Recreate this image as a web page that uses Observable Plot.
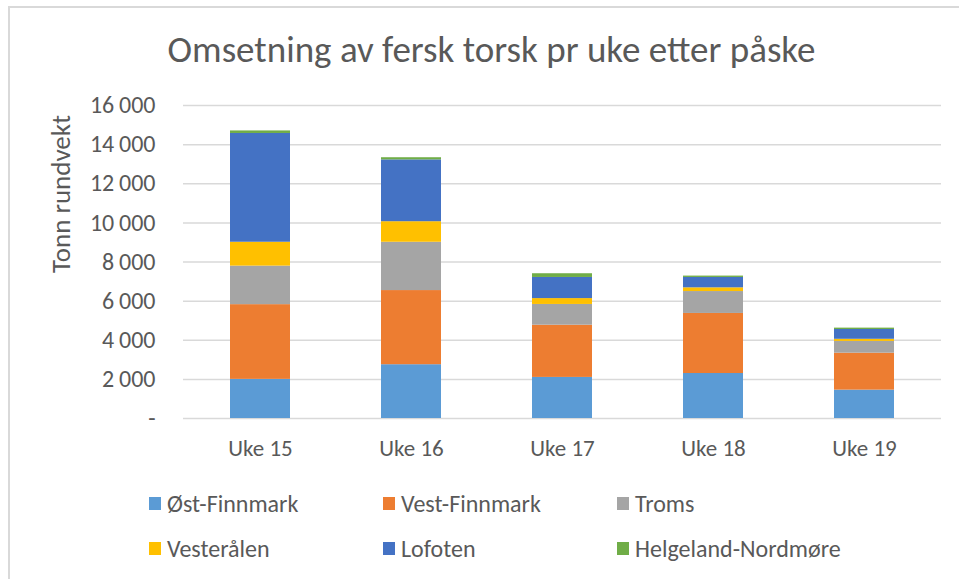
<!DOCTYPE html>
<html>
<head>
<meta charset="utf-8">
<script src="https://cdn.jsdelivr.net/npm/d3@7"></script>
<script src="https://cdn.jsdelivr.net/npm/@observablehq/plot@0.6"></script>
<style>
  html, body { margin: 0; padding: 0; background: #fff; }
  #wrap { position: relative; width: 959px; height: 579px; overflow: hidden; font-family: Carlito, Lato, sans-serif; color: #595959; }
  #frame { position: absolute; left: 8px; top: 6px; width: 980px; height: 600px; border-left: 2.5px solid #d9d9d9; border-top: 2.5px solid #d9d9d9; box-sizing: border-box; }
  #title { position: absolute; left: 0; width: 983px; top: 28px; text-align: center; font-size: 37px; line-height: 44px; white-space: nowrap; }
  #chart { position: absolute; left: 0; top: 0; }
  #legend { position: absolute; left: 149px; top: 490px; width: 750px; }
  .item { position: absolute; display: flex; align-items: center; font-size: 24px; white-space: nowrap; height: 26px; }
  .sw { width: 12px; height: 13px; margin-right: 6px; }
</style>
</head>
<body>
<div id="wrap">
  <div id="frame"></div>
  <div id="chart"></div>
  <div id="title">Omsetning av fersk torsk pr uke etter påske</div>
  <div id="legend"></div>
</div>
<script>
const weeks = ["Uke 15", "Uke 16", "Uke 17", "Uke 18", "Uke 19"];
const regions = ["Øst-Finnmark", "Vest-Finnmark", "Troms", "Vesterålen", "Lofoten", "Helgeland-Nordmøre"];
const colors = ["#5b9bd5", "#ed7d31", "#a5a5a5", "#ffc000", "#4472c4", "#70ad47"];
const ostFinnmark = [2000, 2750, 2100, 2300, 1450];
const vestFinnmark = [3820, 3790, 2670, 3070, 1890];
const troms = [1970, 2470, 1060, 1120, 600];
const vesteralen = [1220, 1050, 300, 190, 110];
const lofoten = [5560, 3160, 1080, 530, 500];
const helgeland = [130, 110, 190, 70, 70];
const yTicks = [0, 2000, 4000, 6000, 8000, 10000, 12000, 14000, 16000];

const series = [ostFinnmark, vestFinnmark, troms, vesteralen, lofoten, helgeland];
const data = [];
regions.forEach((r, i) => weeks.forEach((w, j) => data.push({week: w, region: r, value: series[i][j]})));

const fmt = d => d === 0 ? "-" : d3.format(",")(d).replace(/,/g, "\u2009");

const chart = Plot.plot({
  width: 959,
  height: 579,
  marginLeft: 183,
  marginRight: 18,
  marginTop: 105,
  marginBottom: 161,
  style: { fontFamily: "Carlito, Lato, sans-serif", color: "#595959", background: "transparent" },
  x: { domain: weeks, paddingInner: 0.6, paddingOuter: 0.3, label: null },
  y: { domain: [0, 16000], label: null },
  color: { domain: regions, range: colors },
  marks: [
    Plot.gridY(yTicks, { stroke: "#d9d9d9", strokeOpacity: 1, strokeWidth: 1.5 }),
    Plot.barY(data, { x: "week", y: "value", fill: "region", order: regions }),
    Plot.axisY(yTicks, { tickSize: 0, tickPadding: 28, tickFormat: fmt, fontSize: 24, fill: "#595959", label: null }),
    Plot.axisX({ tickSize: 0, tickPadding: 21, fontSize: 23, fill: "#595959", label: null }),
    Plot.text(["Tonn rundvekt"], { frameAnchor: "left", textAnchor: "middle", dx: -122, dy: -68, rotate: -90, fontSize: 27, fill: "#595959" })
  ]
});
document.getElementById("chart").appendChild(chart);

const legend = document.getElementById("legend");
regions.forEach((r, i) => {
  const it = document.createElement("div");
  it.className = "item";
  it.style.left = (i % 3) * 234 + "px";
  it.style.top = (Math.floor(i / 3) * 45) + "px";
  const sw = document.createElement("div");
  sw.className = "sw";
  sw.style.background = colors[i];
  const t = document.createElement("span");
  t.textContent = r;
  it.appendChild(sw); it.appendChild(t);
  legend.appendChild(it);
});
</script>
</body>
</html>
